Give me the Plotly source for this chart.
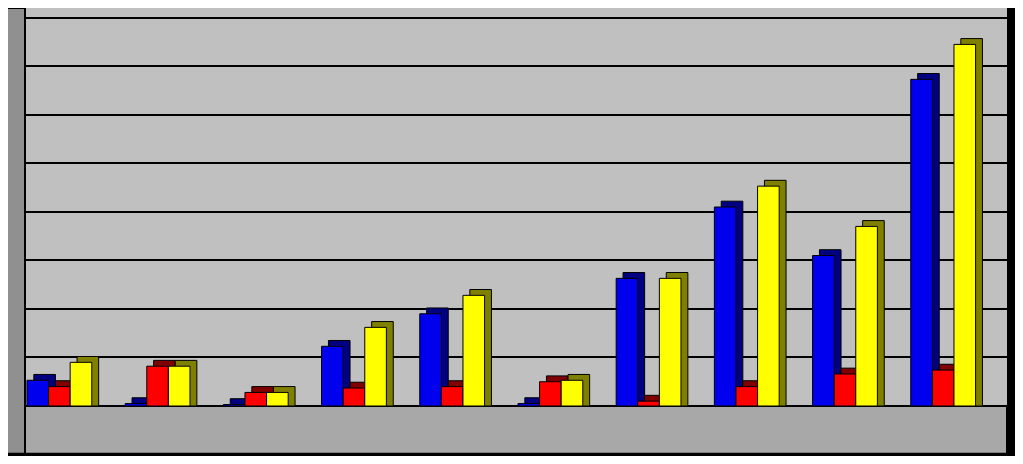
import plotly.graph_objects as go

cats = [f"G{i}" for i in range(1, 11)]
blue = [0.53, 0.05, 0.03, 1.23, 1.9, 0.05, 2.63, 4.1, 3.1, 6.73]
red = [0.4, 0.82, 0.28, 0.37, 0.4, 0.5, 0.1, 0.4, 0.66, 0.74]
yellow = [0.9, 0.82, 0.28, 1.62, 2.28, 0.53, 2.63, 4.53, 3.7, 7.45]

series = [(blue, "#0000ee", "#000080"), (red, "#ff0000", "#800000"), (yellow, "#ffff00", "#808000")]
x = list(range(10))
fig = go.Figure()
w = 0.22
for i, (vals, c, dc) in enumerate(series):
    off = -0.48 + i * w
    fig.add_trace(go.Bar(x=x, y=[v + 0.12 for v in vals], width=w, offset=off + 0.07,
                         marker=dict(color=dc, line=dict(color="black", width=1)), showlegend=False))
for i, (vals, c, dc) in enumerate(series):
    off = -0.48 + i * w
    fig.add_trace(go.Bar(x=x, y=vals, width=w, offset=off,
                         marker=dict(color=c, line=dict(color="black", width=1)), showlegend=False))

fig.update_layout(
    width=1007, height=448, barmode="overlay",
    margin=dict(l=17, r=8, t=0, b=50),
    paper_bgcolor="black", plot_bgcolor="#c0c0c0",
    xaxis=dict(range=[-0.5, 9.5], showticklabels=False, showgrid=False, zeroline=False),
    yaxis=dict(range=[0, 8.2], dtick=1, showticklabels=False, gridcolor="black", gridwidth=2, zeroline=False),
    shapes=[
        dict(type="rect", xref="paper", yref="paper", x0=-0.02, x1=1.0, y0=-0.12, y1=0.0,
             fillcolor="#a8a8a8", line=dict(color="black", width=2), layer="below"),
        dict(type="rect", xref="paper", yref="paper", x0=-0.02, x1=0.0, y0=-0.12, y1=1.0,
             fillcolor="#909090", line=dict(color="black", width=2), layer="below"),
    ],
)
fig.write_html("out.html")
